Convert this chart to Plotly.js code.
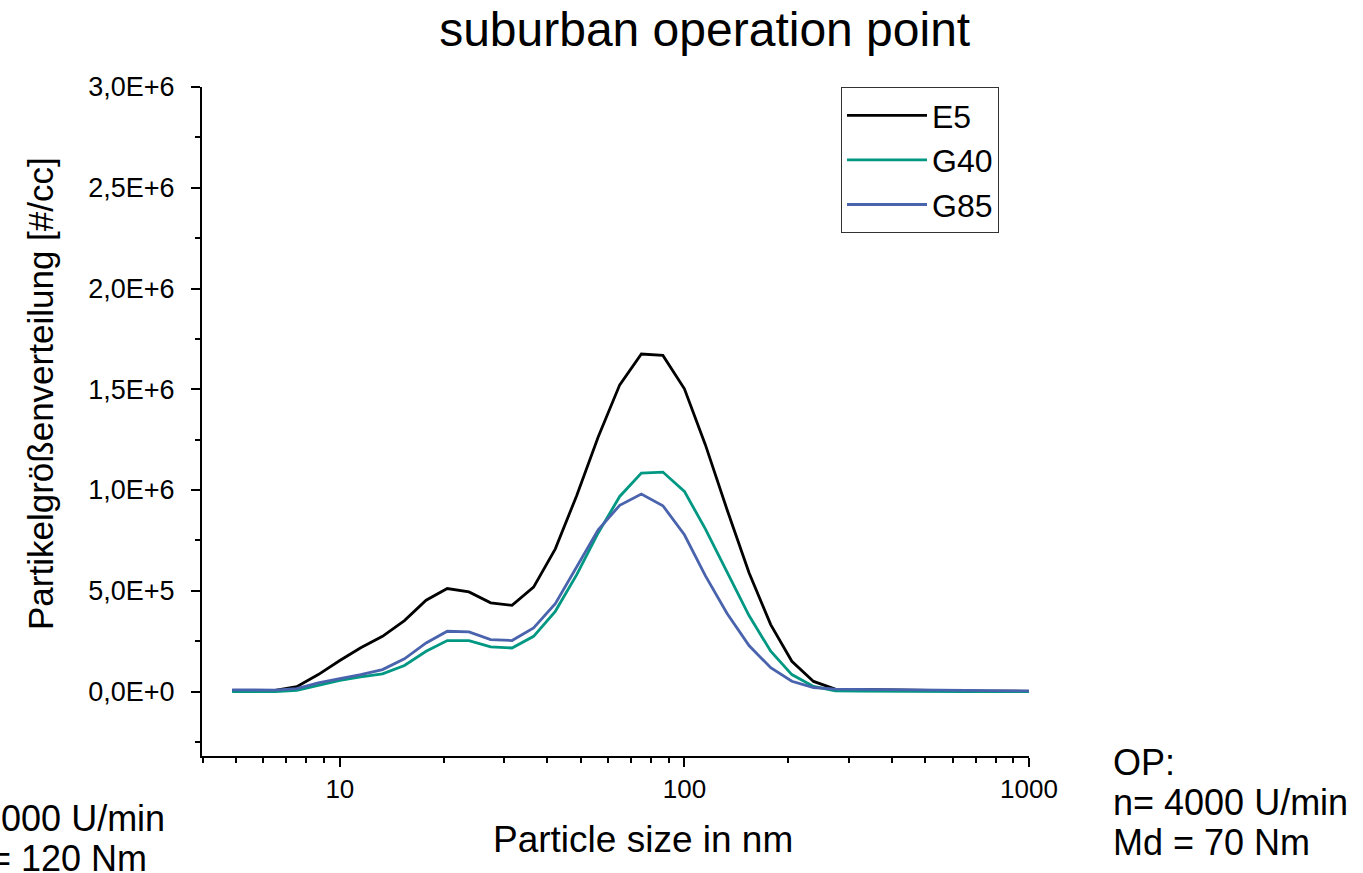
<!DOCTYPE html>
<html>
<head>
<meta charset="utf-8">
<script src="https://cdn.plot.ly/plotly-3.0.1.min.js"></script>
<style>html,body{margin:0;padding:0;background:#fff;}#chart{width:1363px;height:873px;}</style>
</head>
<body>
<div id="chart"></div>
<script>
// Particle size channels (nm)
const sizes = [4.87, 5.62, 6.49, 7.50, 8.66, 10.0, 11.5, 13.3, 15.4, 17.8, 20.5, 23.7, 27.4, 31.6, 36.5, 42.2, 48.7, 56.2, 64.9, 75.0, 86.6, 100, 115, 133, 154, 178, 205, 237, 274, 316, 365, 422, 487, 562, 649, 750, 866, 1000];
// Series values in #/cc (millions)
const e5 = [0.005, 0.005, 0.006, 0.024, 0.084, 0.154, 0.217, 0.274, 0.352, 0.453, 0.511, 0.494, 0.440, 0.428, 0.518, 0.708, 0.973, 1.263, 1.522, 1.675, 1.668, 1.502, 1.225, 0.902, 0.589, 0.332, 0.150, 0.050, 0.012, 0.010, 0.008, 0.006, 0.005, 0.004, 0.003, 0.002, 0.002, 0.001];
const g40 = [0.0, 0.0, 0.0, 0.006, 0.030, 0.055, 0.073, 0.088, 0.129, 0.200, 0.253, 0.253, 0.222, 0.216, 0.274, 0.398, 0.580, 0.787, 0.968, 1.084, 1.089, 0.993, 0.807, 0.589, 0.377, 0.200, 0.084, 0.025, 0.003, 0.002, 0.001, 0.001, 0.001, 0.0, 0.0, 0.0, 0.0, 0.0];
const g85 = [0.008, 0.008, 0.007, 0.014, 0.043, 0.064, 0.084, 0.109, 0.162, 0.241, 0.299, 0.296, 0.258, 0.253, 0.316, 0.436, 0.618, 0.803, 0.924, 0.980, 0.922, 0.778, 0.575, 0.387, 0.228, 0.118, 0.051, 0.020, 0.012, 0.011, 0.010, 0.008, 0.007, 0.006, 0.005, 0.004, 0.003, 0.003];
const seriesNames = ["E5", "G40", "G85"];
const seriesColors = ["#000000", "#009882", "#4a63ad"];
// Tick labels
const xTickVals = [10, 100, 1000];
const xTickText = ["10", "100", "1000"];
const xMinorVals = [4, 5, 6, 7, 8, 9, 20, 30, 40, 50, 60, 70, 80, 90, 200, 300, 400, 500, 600, 700, 800, 900];
const yTickVals = [0, 0.5e6, 1.0e6, 1.5e6, 2.0e6, 2.5e6, 3.0e6];
const yTickText = ["0,0E+0", "5,0E+5", "1,0E+6", "1,5E+6", "2,0E+6", "2,5E+6", "3,0E+6"];
const yMinorVals = [-0.25e6, 0.25e6, 0.75e6, 1.25e6, 1.75e6, 2.25e6, 2.75e6];
// Texts
const chartTitle = "suburban operation point";
const xTitle = "Particle size in nm";
const yTitle = "Partikelgrößenverteilung [#/cc]";
const opRight = ["OP:", "n= 4000 U/min", "Md = 70 Nm"];
const opLeft = ["n= 2000 U/min", "Md = 120 Nm"];

const FONT = "Liberation Sans, Arial, sans-serif";
// plot area in pixels
const PL = 202, PR = 1029, PT = 87, PB = 756;
const px = x => (x - PL) / (PR - PL);
const py = y => (PB - y) / (PB - PT);

const seriesData = [e5, g40, g85];
const traces = seriesData.map((vals, i) => ({
  x: sizes,
  y: vals.map(v => v * 1e6),
  type: "scatter",
  mode: "lines",
  name: seriesNames[i],
  line: {color: seriesColors[i], width: 2.8}
}));

const annotations = [];
opRight.forEach((t, i) => annotations.push({
  xref: "paper", yref: "paper", x: px(1111), y: py(762 + 40 * i),
  xanchor: "left", yanchor: "middle", showarrow: false, text: t,
  font: {family: FONT, size: 36, color: "#000"}
}));
opLeft.forEach((t, i) => annotations.push({
  xref: "paper", yref: "paper", x: px(-72), y: py(818 + 40 * i),
  xanchor: "left", yanchor: "middle", showarrow: false, text: t,
  font: {family: FONT, size: 36, color: "#000"}
}));
annotations.push({
  xref: "paper", yref: "paper", x: px(643), y: py(839),
  xanchor: "center", yanchor: "middle", showarrow: false, text: xTitle,
  font: {family: FONT, size: 37, color: "#000"}
});
annotations.push({
  xref: "paper", yref: "paper", x: px(41), y: py(394),
  xanchor: "center", yanchor: "middle", showarrow: false, text: yTitle, textangle: -90,
  font: {family: FONT, size: 35, color: "#000"}
});

const layout = {
  width: 1363,
  height: 873,
  paper_bgcolor: "#ffffff",
  plot_bgcolor: "#ffffff",
  margin: {l: PL, r: 1363 - PR, t: PT, b: 873 - PB},
  font: {family: FONT, color: "#000"},
  title: {text: chartTitle, font: {family: FONT, size: 48, color: "#000"}, x: 0.517, xanchor: "center", y: 0.966, yanchor: "middle"},
  showlegend: true,
  legend: {
    x: px(841), y: 1, xanchor: "left", yanchor: "top",
    bordercolor: "#333", borderwidth: 1, bgcolor: "rgba(255,255,255,0)",
    font: {family: FONT, size: 32, color: "#000"},
    itemwidth: 80
  },
  xaxis: {
    type: "log",
    range: [0.6, 3.0],
    showgrid: false, zeroline: false,
    showline: true, linecolor: "#000", linewidth: 2,
    ticks: "outside", ticklen: 9, tickwidth: 2, tickcolor: "#000",
    tickmode: "array", tickvals: xTickVals, ticktext: xTickText,
    tickfont: {family: FONT, size: 26, color: "#000"},
    ticklabelstandoff: 0,
    minor: {tickmode: "array", tickvals: xMinorVals, ticks: "outside", ticklen: 5, tickwidth: 2, tickcolor: "#000", showgrid: false}
  },
  yaxis: {
    range: [-0.32e6, 3.0e6],
    showgrid: false, zeroline: false,
    showline: true, linecolor: "#000", linewidth: 2,
    ticks: "outside", ticklen: 9, tickwidth: 2, tickcolor: "#000",
    tickmode: "array", tickvals: yTickVals, ticktext: yTickText,
    tickfont: {family: FONT, size: 27, color: "#000"},
    ticklabelstandoff: 11,
    minor: {tickmode: "array", tickvals: yMinorVals, ticks: "outside", ticklen: 5, tickwidth: 2, tickcolor: "#000", showgrid: false}
  },
  annotations: annotations
};

Plotly.newPlot("chart", traces, layout, {displayModeBar: false, staticPlot: true});
</script>
</body>
</html>
